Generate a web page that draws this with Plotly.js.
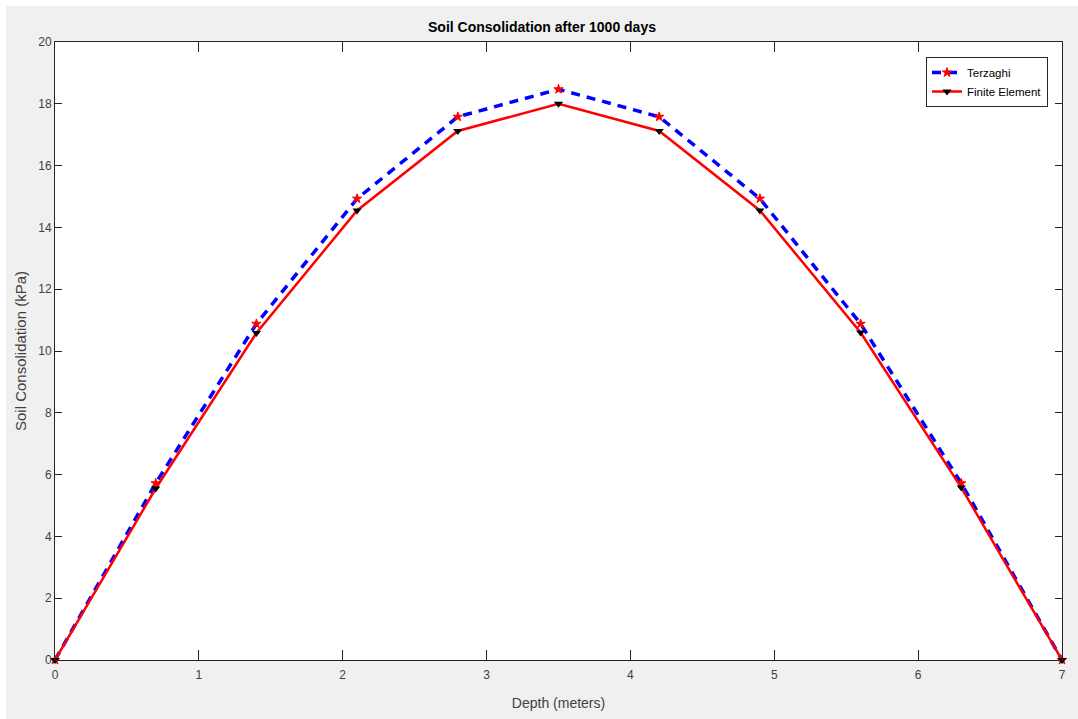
<!DOCTYPE html>
<html>
<head>
<meta charset="utf-8">
<script src="https://cdn.plot.ly/plotly-3.0.1.min.js"></script>
<style>
  html, body { margin: 0; padding: 0; background: #ffffff; }
  #chart { position: absolute; left: 6px; top: 6px; width: 1072px; height: 713px; }
</style>
</head>
<body>
<div id="chart"></div>
<script>
const depth = [0, 0.7, 1.4, 2.1, 2.8, 3.5, 4.2, 4.9, 5.6, 6.3, 7.0];
const terzaghi = [0, 5.72, 10.88, 14.93, 17.58, 18.47, 17.58, 14.93, 10.88, 5.72, 0];
const finiteElement = [0, 5.55, 10.58, 14.55, 17.12, 18.0, 17.12, 14.55, 10.6, 5.58, 0];

const axisFont = { family: 'Liberation Sans, Arial, sans-serif', size: 12, color: '#404040' };

const traces = [
  {
    x: depth, y: terzaghi, name: 'Terzaghi', type: 'scatter', mode: 'lines+markers',
    line: { color: '#0000ff', width: 3.5, dash: '9px,7px' },
    marker: { symbol: 'star', size: 7, color: '#ff0000', line: { color: '#ff0000', width: 1 } },
    cliponaxis: false
  },
  {
    x: depth, y: finiteElement, name: 'Finite Element', type: 'scatter', mode: 'lines+markers',
    line: { color: '#ff0000', width: 2.5 },
    marker: { symbol: 'triangle-down', size: 8, color: '#000000' },
    cliponaxis: false
  }
];

const layout = {
  width: 1072, height: 713,
  paper_bgcolor: '#f0f0f0', plot_bgcolor: '#ffffff',
  margin: { l: 49, r: 16, t: 36, b: 59 },
  font: axisFont,
  title: {
    text: '<b>Soil Consolidation after 1000 days</b>',
    font: { family: 'Liberation Sans, Arial, sans-serif', size: 14, color: '#000000' },
    x: 0.5, xanchor: 'center', y: 1 - 21/713, yanchor: 'middle'
  },
  xaxis: {
    range: [0, 7], dtick: 1, tick0: 0, showgrid: false, zeroline: false,
    showline: true, linecolor: '#262626', linewidth: 1, mirror: 'ticks',
    ticks: 'inside', ticklen: 10, tickcolor: '#262626', tickwidth: 1,
    tickfont: axisFont, ticklabelstandoff: 4,
    title: { text: 'Depth (meters)', font: { family: 'Liberation Sans, Arial, sans-serif', size: 14, color: '#404040' }, standoff: 16 }
  },
  yaxis: {
    range: [0, 20], dtick: 2, tick0: 0, showgrid: false, zeroline: false,
    showline: true, linecolor: '#262626', linewidth: 1, mirror: 'ticks',
    ticks: 'inside', ticklen: 7, tickcolor: '#262626', tickwidth: 1,
    tickfont: axisFont,
    title: { text: 'Soil Consolidation (kPa)', font: { family: 'Liberation Sans, Arial, sans-serif', size: 15, color: '#404040' }, standoff: 7 }
  },
  legend: {
    x: 1 - 14/1007, xanchor: 'right', y: 1 - 15/618, yanchor: 'top',
    bgcolor: '#ffffff', bordercolor: '#262626', borderwidth: 1,
    font: { family: 'Liberation Sans, Arial, sans-serif', size: 11.5, color: '#000000' },
    tracegroupgap: 0, itemwidth: 30
  },
  showlegend: true
};

Plotly.newPlot('chart', traces, layout, { displayModeBar: false, staticPlot: true });
</script>
</body>
</html>
